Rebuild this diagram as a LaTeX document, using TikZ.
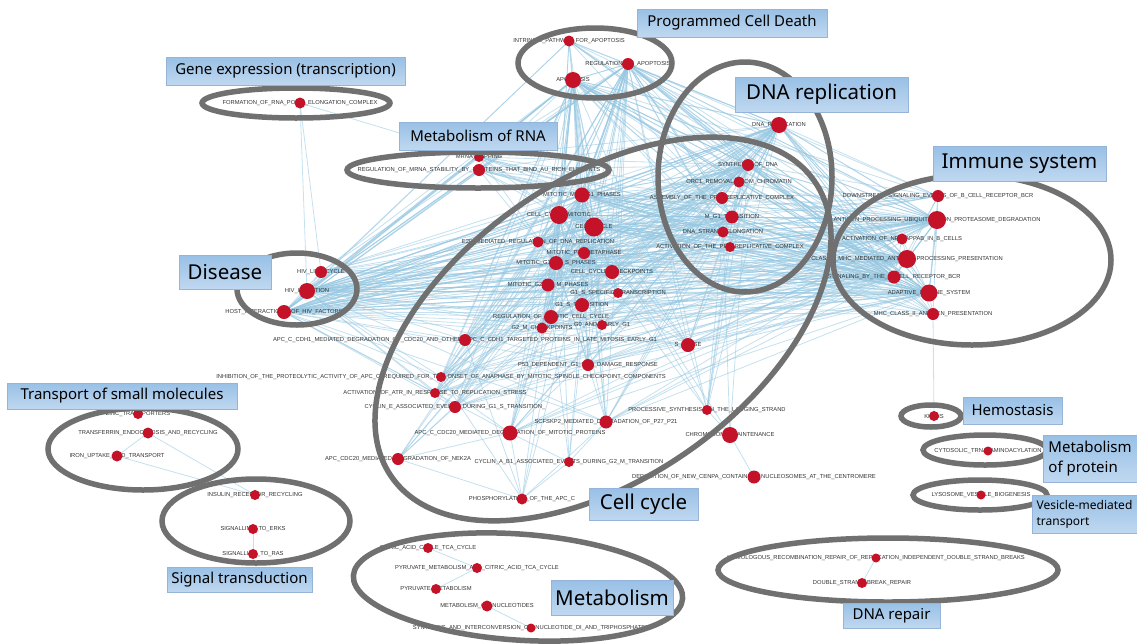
\documentclass[tikz,border=0pt]{standalone}
\usepackage{fontspec}
\usepackage{tikz}
\newfontfamily\labelFont{Liberation Sans}
\newfontfamily\groupFont{Noto Sans}
\definecolor{nodeRed}{RGB}{196,18,40}
\definecolor{edgeBlue}{RGB}{150,200,226}
\definecolor{ringGray}{RGB}{112,112,112}
\definecolor{boxTop}{RGB}{152,192,230}
\definecolor{boxBottom}{RGB}{192,216,240}
\definecolor{boxBorder}{RGB}{150,180,215}
\tikzstyle{network} = [x=1pt, y=-1pt]
\tikzstyle{pathwayNode} = [circle, fill=nodeRed, inner sep=0pt]
\tikzstyle{pathwayText} = [font=\labelFont\fontsize{5.8}{6}\selectfont, text=black!80, inner sep=0pt]
\tikzstyle{edgeLine} = [color=edgeBlue, line width=0.8pt, opacity=0.55]
\tikzstyle{ringLine} = [color=ringGray, line width=5.5pt]
\tikzstyle{groupBox} = [draw=boxBorder, top color=boxTop, bottom color=boxBottom, inner sep=0pt, text=black, align=left]
\tikzstyle{bigGroup} = [groupBox, font=\groupFont\fontsize{20.5}{24}\selectfont]
\tikzstyle{midGroup} = [groupBox, font=\groupFont\fontsize{15}{20}\selectfont]
\tikzstyle{smallGroup} = [groupBox, font=\groupFont\fontsize{12}{16}\selectfont]
\pgfdeclarelayer{edgeLayer}
\pgfsetlayers{edgeLayer,main}
% name, x, y, diameter, label
\newcommand{\pathway}[5]{
  \node[pathwayText] (#1Text) at (#2,#3) {\detokenize{#5}};
  \node[pathwayNode, minimum size=#4] (#1) at (#2,#3) {};
}
% x, y, x radius, y radius, angle
\newcommand{\ring}[5]{\draw[ringLine, rotate around={#5:(#1,#2)}] (#1,#2) ellipse [x radius=#3, y radius=#4];}
% style, name, x, y, width, height, text
\newcommand{\groupLabel}[7]{\node[#1, minimum width=#5, minimum height=#6] (#2) at (#3,#4) {#7};}

\begin{document}
\begin{tikzpicture}[network]
  \begin{pgfonlayer}{edgeLayer}
    \fill[white] (0,0) rectangle (1137,643);
  \end{pgfonlayer}
  \useasboundingbox (0,0) rectangle (1137,643);

  % programmed cell death
  \pathway{intr}{569}{41}{11}{INTRINSIC_PATHWAY_FOR_APOPTOSIS}
  \pathway{regApo}{628}{64}{12}{REGULATION_OF_APOPTOSIS}
  \pathway{apo}{573}{80}{16}{APOPTOSIS}
  % gene expression, RNA
  \pathway{rnaPol}{300}{103}{11}{FORMATION_OF_RNA_POL_II_ELONGATION_COMPLEX}
  \pathway{mrnaCap}{479}{157}{10}{MRNA_CAPPING}
  \pathway{mrnaStab}{479}{170}{12}{REGULATION_OF_MRNA_STABILITY_BY_PROTEINS_THAT_BIND_AU_RICH_ELEMENTS}
  % DNA replication
  \pathway{dnaRep}{779}{125}{16}{DNA_REPLICATION}
  \pathway{synDna}{748}{165}{12}{SYNTHESIS_OF_DNA}
  \pathway{orcRem}{739}{182}{11}{ORC1_REMOVAL_FROM_CHROMATIN}
  \pathway{assemPre}{722}{198}{12}{ASSEMBLY_OF_THE_PRE_REPLICATIVE_COMPLEX}
  \pathway{mgOne}{732}{217}{13}{M_G1_TRANSITION}
  \pathway{dnaStrand}{723}{232}{11}{DNA_STRAND_ELONGATION}
  \pathway{actPre}{730}{247}{10}{ACTIVATION_OF_THE_PRE_REPLICATIVE_COMPLEX}
  % immune system
  \pathway{downBcr}{938}{196}{12}{DOWNSTREAM_SIGNALING_EVENTS_OF_B_CELL_RECEPTOR_BCR}
  \pathway{antiProc}{937}{220}{18}{ANTIGEN_PROCESSING_UBIQUITINATION_PROTEASOME_DEGRADATION}
  \pathway{nfkb}{902}{239}{11}{ACTIVATION_OF_NF_KAPPAB_IN_B_CELLS}
  \pathway{mhcOne}{907}{259}{18}{CLASS_I_MHC_MEDIATED_ANTIGEN_PROCESSING_PRESENTATION}
  \pathway{sigBcr}{894}{277}{13}{SIGNALING_BY_THE_B_CELL_RECEPTOR_BCR}
  \pathway{adaptive}{929}{293}{17}{ADAPTIVE_IMMUNE_SYSTEM}
  \pathway{mhcTwo}{933}{314}{12}{MHC_CLASS_II_ANTIGEN_PRESENTATION}
  % disease
  \pathway{hivLife}{321}{272}{12}{HIV_LIFE_CYCLE}
  \pathway{hivInf}{307}{291}{16}{HIV_INFECTION}
  \pathway{hostHiv}{284}{312}{14}{HOST_INTERACTIONS_OF_HIV_FACTORS}
  % cell cycle
  \pathway{mmgOne}{582}{195}{15}{MITOTIC_M_M_G1_PHASES}
  \pathway{ccMitotic}{559}{215}{18}{CELL_CYCLE_MITOTIC}
  \pathway{cellCycle}{594}{227}{19}{CELL_CYCLE}
  \pathway{etwoF}{538}{242}{11}{E2F_MEDIATED_REGULATION_OF_DNA_REPLICATION}
  \pathway{prometa}{584}{253}{12}{MITOTIC_PROMETAPHASE}
  \pathway{mitGoneS}{556}{263}{14}{MITOTIC_G1_G1_S_PHASES}
  \pathway{ccCheck}{612}{272}{14}{CELL_CYCLE_CHECKPOINTS}
  \pathway{mitGtwoM}{548}{285}{13}{MITOTIC_G2_G2_M_PHASES}
  \pathway{gsSpec}{618}{293}{10}{G1_S_SPECIFIC_TRANSCRIPTION}
  \pathway{gsTrans}{582}{305}{14}{G1_S_TRANSITION}
  \pathway{regMit}{551}{317}{14}{REGULATION_OF_MITOTIC_CELL_CYCLE}
  \pathway{gZero}{602}{325}{10}{G0_AND_EARLY_G1}
  \pathway{gtmCheck}{542}{328}{11}{G2_M_CHECKPOINTS}
  \pathway{cdhOne}{465}{340}{12}{APC_C_CDH1_MEDIATED_DEGRADATION_OF_CDC20_AND_OTHER_APC_C_CDH1_TARGETED_PROTEINS_IN_LATE_MITOSIS_EARLY_G1}
  \pathway{sPhase}{688}{345}{14}{S_PHASE}
  \pathway{pFiftyThree}{588}{365}{12}{P53_DEPENDENT_G1_DNA_DAMAGE_RESPONSE}
  \pathway{inhibApc}{441}{377}{10}{INHIBITION_OF_THE_PROTEOLYTIC_ACTIVITY_OF_APC_C_REQUIRED_FOR_THE_ONSET_OF_ANAPHASE_BY_MITOTIC_SPINDLE_CHECKPOINT_COMPONENTS}
  \pathway{atrStress}{435}{393}{10}{ACTIVATION_OF_ATR_IN_RESPONSE_TO_REPLICATION_STRESS}
  \pathway{cyclinE}{455}{407}{12}{CYCLIN_E_ASSOCIATED_EVENTS_DURING_G1_S_TRANSITION_}
  \pathway{procSyn}{707}{410}{10}{PROCESSIVE_SYNTHESIS_ON_THE_LAGGING_STRAND}
  \pathway{scfSkp}{606}{422}{13}{SCFSKP2_MEDIATED_DEGRADATION_OF_P27_P21}
  \pathway{cdcTwenty}{510}{433}{15}{APC_C_CDC20_MEDIATED_DEGRADATION_OF_MITOTIC_PROTEINS}
  \pathway{chromMaint}{730}{435}{16}{CHROMOSOME_MAINTENANCE}
  \pathway{nekTwoA}{398}{459}{12}{APC_CDC20_MEDIATED_DEGRADATION_OF_NEK2A}
  \pathway{cyclinA}{569}{462}{10}{CYCLIN_A_B1_ASSOCIATED_EVENTS_DURING_G2_M_TRANSITION}
  \pathway{cenpa}{754}{477}{13}{DEPOSITION_OF_NEW_CENPA_CONTAINING_NUCLEOSOMES_AT_THE_CENTROMERE}
  \pathway{phosApc}{522}{499}{11}{PHOSPHORYLATION_OF_THE_APC_C}
  % transport, signalling
  \pathway{zinc}{138}{414}{10}{ZINC_TRANSPORTERS}
  \pathway{transferrin}{148}{433}{11}{TRANSFERRIN_ENDOCYTOSIS_AND_RECYCLING}
  \pathway{iron}{117}{456}{11}{IRON_UPTAKE_AND_TRANSPORT}
  \pathway{insulin}{255}{495}{10}{INSULIN_RECEPTOR_RECYCLING}
  \pathway{erks}{253}{529}{10}{SIGNALLING_TO_ERKS}
  \pathway{ras}{253}{554}{10}{SIGNALLING_TO_RAS}
  % metabolism
  \pathway{citric}{428}{548}{10}{CITRIC_ACID_CYCLE_TCA_CYCLE}
  \pathway{pyrCitric}{477}{568}{10}{PYRUVATE_METABOLISM_AND_CITRIC_ACID_TCA_CYCLE}
  \pathway{pyruvate}{436}{589}{10}{PYRUVATE_METABOLISM}
  \pathway{metNuc}{487}{606}{11}{METABOLISM_OF_NUCLEOTIDES}
  \pathway{synNuc}{531}{628}{9}{SYNTHESIS_AND_INTERCONVERSION_OF_NUCLEOTIDE_DI_AND_TRIPHOSPHATES}
  % small groups on the right
  \pathway{kinins}{934}{416}{10}{KININS}
  \pathway{trna}{988}{451}{9}{CYTOSOLIC_TRNA_AMINOACYLATION}
  \pathway{lysosome}{981}{495}{9}{LYSOSOME_VESICLE_BIOGENESIS}
  \pathway{homRec}{876}{558}{9}{HOMOLOGOUS_RECOMBINATION_REPAIR_OF_REPLICATION_INDEPENDENT_DOUBLE_STRAND_BREAKS}
  \pathway{dsbRepair}{862}{583}{10}{DOUBLE_STRAND_BREAK_REPAIR}

  \begin{pgfonlayer}{edgeLayer}
    \foreach \hub in {regApo,apo,dnaRep,synDna,mgOne,cellCycle,ccMitotic,mmgOne,mitGoneS,antiProc,mhcOne,adaptive,sigBcr,hivInf,hostHiv} {
      \foreach \target in {intr,regApo,apo,mrnaCap,mrnaStab,dnaRep,synDna,orcRem,assemPre,mgOne,dnaStrand,actPre,downBcr,antiProc,nfkb,mhcOne,sigBcr,adaptive,mhcTwo,hivLife,hivInf,hostHiv,mmgOne,ccMitotic,cellCycle,etwoF,prometa,mitGoneS,ccCheck,mitGtwoM,gsSpec,gsTrans,regMit,gZero,gtmCheck,cdhOne,sPhase,pFiftyThree,inhibApc,atrStress,cyclinE,scfSkp,cdcTwenty} {
        \draw[edgeLine] (\hub.center) -- (\target.center);
      }
    }
    \foreach \target in {dnaRep,synDna,dnaStrand,actPre,cellCycle,ccMitotic,sPhase,mgOne,regApo,chromMaint}
      \draw[edgeLine] (procSyn.center) -- (\target.center);
    \foreach \target in {cenpa,dnaStrand,cellCycle,synDna}
      \draw[edgeLine] (chromMaint.center) -- (\target.center);
    \foreach \target in {cellCycle,ccMitotic,mmgOne,cdcTwenty,phosApc,cyclinE,mitGtwoM,regMit}
      \draw[edgeLine] (nekTwoA.center) -- (\target.center);
    \foreach \target in {cellCycle,ccMitotic,mitGtwoM,cdcTwenty,phosApc,scfSkp,gsTrans}
      \draw[edgeLine] (cyclinA.center) -- (\target.center);
    \foreach \target in {cdcTwenty,cellCycle,ccMitotic,mmgOne,cdhOne,inhibApc,scfSkp}
      \draw[edgeLine] (phosApc.center) -- (\target.center);
    \foreach \target in {hivLife,hivInf,mrnaCap}
      \draw[edgeLine] (rnaPol.center) -- (\target.center);
    \draw[edgeLine] (kinins.center) -- (mhcTwo.center);
    \draw[edgeLine] (transferrin.center) -- (insulin.center);
    \draw[edgeLine] (transferrin.center) -- (iron.center);
    \draw[edgeLine] (iron.center) -- (insulin.center);
    \draw[edgeLine] (erks.center) -- (ras.center);
    \draw[edgeLine] (citric.center) -- (pyrCitric.center);
    \draw[edgeLine] (pyrCitric.center) -- (pyruvate.center);
    \draw[edgeLine] (metNuc.center) -- (synNuc.center);
    \draw[edgeLine] (homRec.center) -- (dsbRepair.center);
  \end{pgfonlayer}

  % group rings
  \ring{595}{63}{77}{35}{0}
  \ring{296}{103}{94}{15}{0}
  \ring{478}{170}{131}{18}{0}
  \ring{745}{177}{87}{115}{0}
  \ring{972}{260}{139}{85}{0}
  \ring{297}{289}{60}{36}{0}
  \ring{603}{329}{258}{149}{35}
  \ring{143}{449}{95}{41}{0}
  \ring{256}{521}{94}{42}{0}
  \ring{518}{587}{165}{53}{-4}
  \ring{931}{416}{30}{11}{0}
  \ring{985}{450}{62}{15}{0}
  \ring{980}{495}{67}{15}{0}
  \ring{888}{570}{170}{32}{0}

  % group labels
  \groupLabel{midGroup}{cellDeathLabel}{732}{23}{190}{28}{Programmed Cell Death}
  \groupLabel{midGroup}{geneLabel}{285.5}{71}{239}{28}{Gene expression (transcription)}
  \groupLabel{midGroup}{rnaLabel}{478}{136}{158}{28}{Metabolism of RNA}
  \groupLabel{bigGroup}{replicationLabel}{821.5}{94.5}{173}{35}{DNA replication}
  \groupLabel{bigGroup}{immuneLabel}{1019.5}{163.5}{173}{35}{Immune system}
  \groupLabel{bigGroup}{diseaseLabel}{225}{272}{92}{34}{Disease}
  \groupLabel{midGroup}{transportLabel}{122}{396}{230}{26}{Transport of small molecules}
  \groupLabel{midGroup}{signalLabel}{239.5}{579.5}{145}{25}{Signal transduction}
  \groupLabel{bigGroup}{cellCycleLabel}{643.5}{504}{109}{32}{Cell cycle}
  \groupLabel{bigGroup}{metabolismLabel}{612}{597.5}{122}{35}{Metabolism}
  \groupLabel{midGroup}{repairLabel}{891.5}{615.5}{97}{25}{DNA repair}
  \groupLabel{midGroup}{hemostasisLabel}{1012.5}{410.5}{99}{27}{Hemostasis}
  \groupLabel{midGroup}{proteinLabel}{1090}{458.5}{94}{47}{Metabolism\\of protein}
  \groupLabel{smallGroup}{vesicleLabel}{1084.5}{514}{105}{38}{Vesicle-mediated\\transport}
\end{tikzpicture}
\end{document}
